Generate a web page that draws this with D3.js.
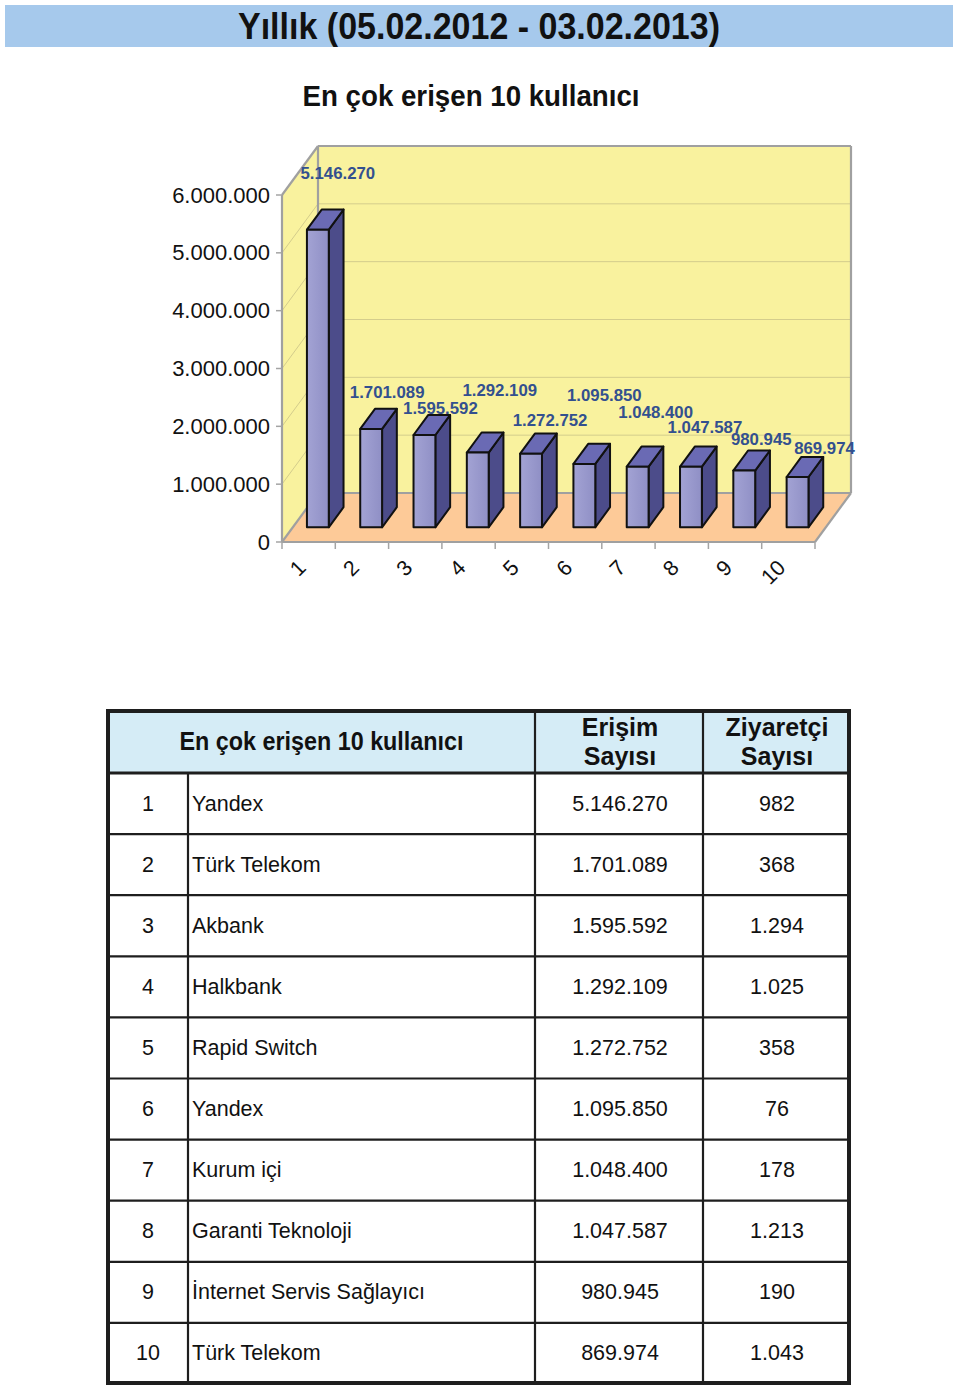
<!DOCTYPE html>
<html><head><meta charset="utf-8">
<script src="https://cdn.jsdelivr.net/npm/d3@7/dist/d3.min.js"></script>
<style>body{margin:0;background:#fff}svg{display:block}</style>
</head><body>
<script>
// ---- data ----
const categories = ["1","2","3","4","5","6","7","8","9","10"];
const names = ["Yandex","Türk Telekom","Akbank","Halkbank","Rapid Switch","Yandex","Kurum içi","Garanti Teknoloji","İnternet Servis Sağlayıcı","Türk Telekom"];
const accessCounts = [5146270,1701089,1595592,1292109,1272752,1095850,1048400,1047587,980945,869974];
const visitorCounts = [982,368,1294,1025,358,76,178,1213,190,1043];
const yTicks = [0,1000000,2000000,3000000,4000000,5000000,6000000];
const titleText = "Yıllık (05.02.2012 - 03.02.2013)";
const chartTitle = "En çok erişen 10 kullanıcı";
const headerCols = [["En çok erişen 10 kullanıcı"],["Erişim","Sayısı"],["Ziyaretçi","Sayısı"]];
// label nudges (Excel staggered data labels), px relative to bar top
const labelNudge = [[20,-56],[16,-36],[16,-27],[22,-62],[19,-33],[20,-68],[18,-54],[14,-39],[17,-31],[27,-28]];

const W=960,H=1386;
const loc = d3.formatLocale({decimal:",",thousands:".",grouping:[3],currency:["","₺"]});
const fmt = loc.format(",d");
const NARROW = "'Liberation Sans Narrow','Arial Narrow','Liberation Sans',Arial,sans-serif";
const SANS = "'Liberation Sans',Arial,sans-serif";

const svg = d3.select("body").append("svg").attr("width",W).attr("height",H);

// gradient for bar fronts
const defs = svg.append("defs");
const g1 = defs.append("linearGradient").attr("id","fr").attr("x1","0").attr("x2","1");
g1.append("stop").attr("offset","0").attr("stop-color","#a3a3d4");
g1.append("stop").attr("offset","1").attr("stop-color","#8f8fc5");

// ---- title ----
svg.append("rect").attr("x",5).attr("y",5).attr("width",948).attr("height",42).attr("fill","#a6c9ec");
svg.append("text").attr("x",479).attr("y",26).attr("text-anchor","middle").attr("dominant-baseline","central")
  .attr("font-family",NARROW).attr("font-weight","bold").attr("font-size",36).attr("fill","#111")
  .attr("textLength",482).attr("lengthAdjust","spacingAndGlyphs").text(titleText);
svg.append("text").attr("x",471).attr("y",96).attr("text-anchor","middle").attr("dominant-baseline","central")
  .attr("font-family",NARROW).attr("font-weight","bold").attr("font-size",29).attr("fill","#111")
  .attr("textLength",337).attr("lengthAdjust","spacingAndGlyphs").text(chartTitle);

// ---- 3D chart ----
const x = d3.scaleBand().domain(categories).range([282,815]);
const y = d3.scaleLinear().domain([0,6000000]).range([542,195]);
const DX=36, DY=49;
const P = (px, v, z) => [px + z*DX, y(v) - z*DY];
const x0 = x.range()[0], x1 = x.range()[1];
const ymax = y.domain()[1];
const poly = pts => "M"+pts.map(p=>p.join(",")).join("L")+"Z";

const ch = svg.append("g");
ch.append("path").attr("d",poly([P(x0,0,0),P(x0,ymax,0),P(x0,ymax,1),P(x0,0,1)])).attr("fill","#f9f29e");
ch.append("path").attr("d",poly([P(x0,0,1),P(x0,ymax,1),P(x1,ymax,1),P(x1,0,1)])).attr("fill","#f9f29e");
ch.append("path").attr("d",poly([P(x0,0,0),P(x1,0,0),P(x1,0,1),P(x0,0,1)])).attr("fill","#fdca98");
yTicks.filter(t=>t>0 && t<ymax).forEach(t=>{
  ch.append("path").attr("d","M"+P(x0,t,0)+"L"+P(x0,t,1)+"L"+P(x1,t,1)).attr("fill","none")
    .attr("stroke","#d4cd8c").attr("stroke-width",1);
});
const edge = (a,b)=>ch.append("line").attr("x1",a[0]).attr("y1",a[1]).attr("x2",b[0]).attr("y2",b[1])
  .attr("stroke","#a0a0a0").attr("stroke-width",2.2);
edge(P(x0,0,0),P(x0,ymax,0));
edge(P(x0,ymax,0),P(x0,ymax,1));
edge(P(x0,ymax,1),P(x1,ymax,1));
edge(P(x1,ymax,1),P(x1,0,1));
edge(P(x0,ymax,1),P(x0,0,1));
edge(P(x0,0,1),P(x1,0,1));
edge(P(x0,0,0),P(x1,0,0));
edge(P(x1,0,0),P(x1,0,1));
edge(P(x0,0,0),P(x0,0,1));
yTicks.forEach(t=>{
  ch.append("line").attr("x1",x0-6).attr("x2",x0).attr("y1",y(t)).attr("y2",y(t)).attr("stroke","#a4a4a4").attr("stroke-width",1.5);
  ch.append("text").attr("x",270).attr("y",y(t)).attr("text-anchor","end").attr("dominant-baseline","central")
    .attr("font-family",SANS).attr("font-size",22).attr("fill","#111").text(fmt(t));
});
const bw = x.bandwidth();
categories.concat(["end"]).forEach((c,i)=>{
  const px = x0 + i*bw;
  ch.append("line").attr("x1",px).attr("x2",px).attr("y1",y(0)).attr("y2",y(0)+7).attr("stroke","#a4a4a4").attr("stroke-width",1.5);
});
categories.forEach(c=>{
  const cx = x(c)+bw/2 - 6.5;
  ch.append("text").attr("transform",`translate(${cx},564) rotate(-45)`).attr("text-anchor","end")
    .attr("dominant-baseline","central").attr("font-family",SANS).attr("font-size",21.5).attr("fill","#111").text(c);
});
const z0=0.3, z1=0.71, bo=0.265, bwid=0.41;
categories.forEach((c,i)=>{
  const v = accessCounts[i];
  const L = x(c)+bo*bw, R = x(c)+(bo+bwid)*bw;
  const g = ch.append("g").attr("stroke","#111").attr("stroke-width",2).attr("stroke-linejoin","round");
  g.append("path").attr("d",poly([P(R,0,z0),P(R,0,z1),P(R,v,z1),P(R,v,z0)])).attr("fill","#4c4c8a");
  g.append("path").attr("d",poly([P(L,v,z0),P(R,v,z0),P(R,v,z1),P(L,v,z1)])).attr("fill","#6a6ab4");
  g.append("path").attr("d",poly([P(L,0,z0),P(R,0,z0),P(R,v,z0),P(L,v,z0)])).attr("fill","url(#fr)");
});
categories.forEach((c,i)=>{
  const v = accessCounts[i];
  const top = P(x(c)+(bo+bwid/2)*bw, v, z0);
  ch.append("text").attr("x",top[0]+labelNudge[i][0]).attr("y",top[1]+labelNudge[i][1])
    .attr("text-anchor","middle").attr("dominant-baseline","central")
    .attr("font-family",SANS).attr("font-weight","bold").attr("font-size",16.8).attr("fill","#33508f").text(fmt(v));
});

// ---- table ----
const tb = svg.append("g");
const colX = [108,188,535,703,849];
const rowsY = d3.scaleBand().domain(d3.range(names.length)).range([773,1384]);
const hdrTop = 711, hdrBot = 773;
tb.append("rect").attr("x",colX[0]).attr("y",hdrTop).attr("width",colX[4]-colX[0]).attr("height",hdrBot-hdrTop).attr("fill","#d5ecf6");
tb.append("text").attr("x",(colX[0]+colX[2])/2).attr("y",741).attr("text-anchor","middle").attr("dominant-baseline","central")
  .attr("font-family",NARROW).attr("font-weight","bold").attr("font-size",25).attr("fill","#111")
  .attr("textLength",284).attr("lengthAdjust","spacingAndGlyphs").text(headerCols[0][0]);
[[2,620],[3,777]].forEach(([ci,cx])=>{
  headerCols[ci-1].forEach((t,li)=>{
    tb.append("text").attr("x",cx).attr("y",727+li*29).attr("text-anchor","middle").attr("dominant-baseline","central")
      .attr("font-family",NARROW).attr("font-weight","bold").attr("font-size",25).attr("fill","#111").text(t);
  });
});
names.forEach((n,i)=>{
  const cy = rowsY(i)+rowsY.bandwidth()/2;
  const tx = (xx,anchor,t)=>tb.append("text").attr("x",xx).attr("y",cy).attr("text-anchor",anchor).attr("dominant-baseline","central")
    .attr("font-family",SANS).attr("font-size",21.5).attr("fill","#111").text(t);
  tx(148,"middle",categories[i]);
  tx(192,"start",n);
  tx(620,"middle",fmt(accessCounts[i]));
  tx(777,"middle",fmt(visitorCounts[i]));
});
const ln=(a,b,c,d,w)=>tb.append("line").attr("x1",a).attr("y1",b).attr("x2",c).attr("y2",d).attr("stroke","#1e1e1e").attr("stroke-width",w);
d3.range(1,names.length).forEach(i=>ln(colX[0],rowsY(i),colX[4],rowsY(i),2.2));
ln(colX[0],hdrBot,colX[4],hdrBot,3);
ln(colX[1],hdrBot,colX[1],1384,2.2);
ln(colX[2],hdrTop,colX[2],1384,2.2);
ln(colX[3],hdrTop,colX[3],1384,2.2);
tb.append("rect").attr("x",colX[0]).attr("y",hdrTop).attr("width",colX[4]-colX[0]).attr("height",1383-hdrTop)
  .attr("fill","none").attr("stroke","#1e1e1e").attr("stroke-width",4);
</script>
</body></html>
